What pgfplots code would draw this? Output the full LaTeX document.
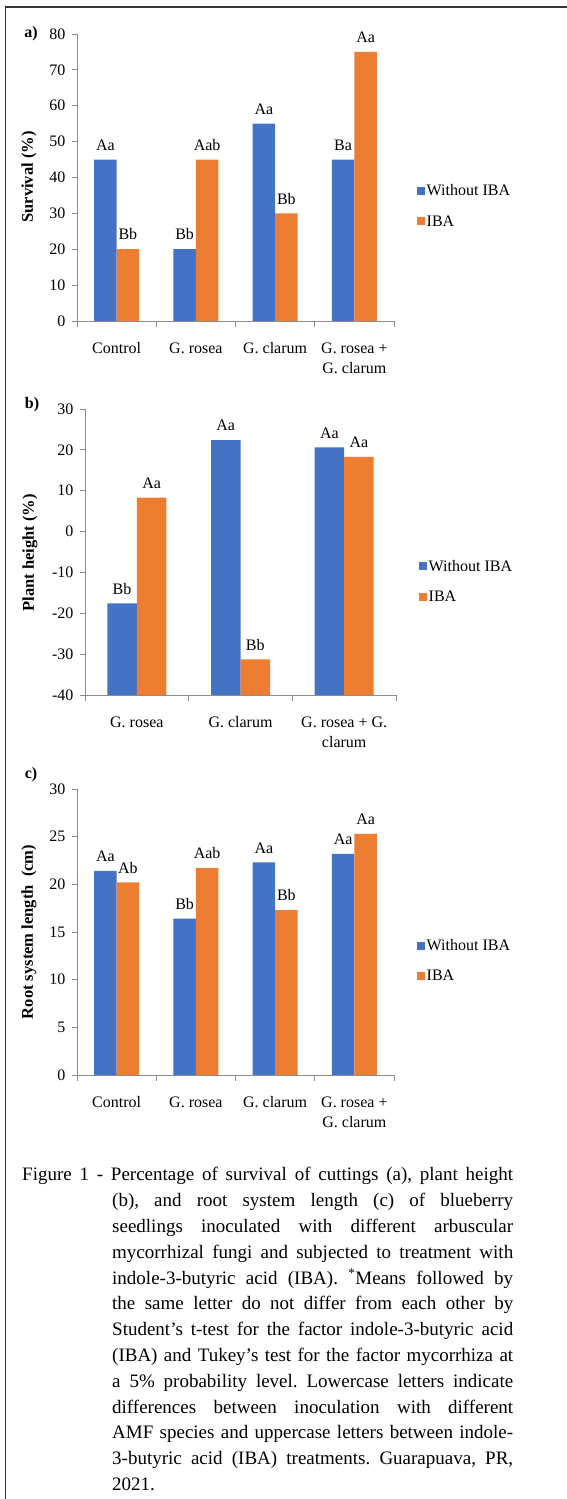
\documentclass[border=0pt]{standalone}
\usepackage{pgfplots}
\pgfplotsset{compat=1.18}
\usepackage{fontspec}
\setmainfont{Liberation Serif}
\definecolor{barblue}{HTML}{4472C4}
\definecolor{barorange}{HTML}{ED7D31}
\definecolor{axgray}{HTML}{8C8C8C}
\newcommand{\fs}{\fontsize{16}{20}\selectfont}
\pgfplotsset{
  panel/.style={
    scale only axis,
    axis lines*=left,
    axis line style={axgray, line width=0.8pt},
    ybar=0pt,
    enlarge x limits=false,
    tick align=outside,
    major tick length=5pt,
    minor tick length=6pt,
    major x tick style={draw=none},
    minor x tick style={axgray, line width=0.8pt},
    ytick style={axgray, line width=0.8pt},
    /pgf/number format/assume math mode=true,
    ticklabel style={font=\fs},
    xticklabel style={align=center, font=\fs, yshift=-13pt},
    yticklabel style={xshift=-3pt},
    nodes near coords,
    point meta=explicit symbolic,
    nodes near coords style={font=\fs, anchor=south, inner sep=2pt, yshift=7pt, text=black},
    legend image code/.code={\fill[##1] (0pt,-4pt) rectangle (8pt,4pt);},
    legend style={draw=none, fill=none, font=\fs, inner sep=0pt, row sep=15pt,
      nodes={inner sep=1.5pt}},
    legend cell align=left,
  }
}
\begin{document}
\frenchspacing
\begin{tikzpicture}[x=1pt,y=1pt]
\useasboundingbox (0,0) rectangle (567,1499);
\draw[line width=1.8pt, black!80] (5.5,0) -- (5.5,1492) -- (567,1492);

% ---------- panel a ----------
\begin{axis}[panel, at={(77pt,1178pt)}, anchor=south west,
  width=317pt, height=287pt,
  xmin=-0.5, xmax=3.5, ymin=0, ymax=80,
  ytick={0,10,...,80},
  xtick={0,1,2,3},
  xticklabels={Control, G. rosea, G. clarum, {G. rosea +\\G. clarum}},
  minor xtick={-0.5,0.5,1.5,2.5,3.5},
  bar width=22.5pt,
  legend style={at={(axis description cs:1.0726,0.40)}, anchor=west},
]
\addplot[fill=barblue, draw=none] coordinates {(0,45) [Aa] (1,20) [Bb] (2,55) [Aa] (3,45) [Ba]};
\addplot[fill=barorange, draw=none] coordinates {(0,20) [Bb] (1,45) [Aab] (2,30) [Bb] (3,75) [Aa]};
\legend{Without IBA, IBA}
\end{axis}
\node[font=\bfseries\fontsize{16}{20}\selectfont] at (31,1465) {a)};
\node[font=\bfseries\fontsize{16.5}{20}\selectfont, rotate=90] at (29,1322) {Survival (\%)};

% ---------- panel b ----------
\begin{axis}[panel, at={(85pt,804pt)}, anchor=south west,
  width=311pt, height=286pt,
  y coord trafo/.code={\pgfmathparse{#1+40}},
  y coord inv trafo/.code={\pgfmathparse{#1-40}},
  xmin=-0.5, xmax=2.5, ymin=-40, ymax=30,
  ytick={-40,-30,...,30},
  xtick={0,1,2},
  xticklabels={G. rosea, G. clarum, {G. rosea + G.\\clarum}},
  minor xtick={-0.5,0.5,1.5,2.5},
  bar width=29.5pt,
  legend style={at={(axis description cs:1.074,0.397)}, anchor=west},
]
\addplot[fill=barblue, draw=none] coordinates {(0,-17.6) [Bb] (1,22.4) [Aa] (2,20.6) [Aa]};
\addplot[fill=barorange, draw=none] coordinates {(0,8.3) [Aa] (1,-31.3) [Bb] (2,18.3) [Aa]};
\legend{Without IBA, IBA}
\end{axis}
\node[font=\bfseries\fontsize{16}{20}\selectfont] at (32,1094) {b)};
\node[font=\bfseries\fontsize{16.5}{20}\selectfont, rotate=90] at (30,946) {Plant height (\%)};

% ---------- panel c ----------
\begin{axis}[panel, at={(77pt,424pt)}, anchor=south west,
  width=317pt, height=286pt,
  xmin=-0.5, xmax=3.5, ymin=0, ymax=30,
  ytick={0,5,...,30},
  xtick={0,1,2,3},
  xticklabels={Control, G. rosea, G. clarum, {G. rosea +\\G. clarum}},
  minor xtick={-0.5,0.5,1.5,2.5,3.5},
  bar width=22.5pt,
  legend style={at={(axis description cs:1.0726,0.3986)}, anchor=west},
]
\addplot[fill=barblue, draw=none] coordinates {(0,21.4) [Aa] (1,16.4) [Bb] (2,22.3) [Aa] (3,23.2) [Aa]};
\addplot[fill=barorange, draw=none] coordinates {(0,20.2) [Ab] (1,21.7) [Aab] (2,17.3) [Bb] (3,25.3) [Aa]};
\legend{Without IBA, IBA}
\end{axis}
\node[font=\bfseries\fontsize{16}{20}\selectfont] at (31,724) {c)};
\node[font=\bfseries\fontsize{16.5}{20}\selectfont, rotate=90] at (29,567) {Root system length\ \ (cm)};

% ---------- caption ----------
\node[anchor=base west, inner sep=0pt, font=\fontsize{19}{25.8}\selectfont] at (22,318) {%
\parbox[t]{491pt}{\setlength{\parindent}{0pt}\frenchspacing\hangindent=90pt\hangafter=1\noindent
Figure 1 - Percentage of survival of cuttings (a), plant height\linebreak
(b), and root system length (c) of blueberry\linebreak
seedlings inoculated with different arbuscular\linebreak
mycorrhizal fungi and subjected to treatment with\linebreak
indole-3-butyric acid (IBA). \textsuperscript{*}Means followed by\linebreak
the same letter do not differ from each other by\linebreak
Student’s t-test for the factor indole-3-butyric acid\linebreak
(IBA) and Tukey’s test for the factor mycorrhiza at\linebreak
a 5\% probability level. Lowercase letters indicate\linebreak
differences between inoculation with different\linebreak
AMF species and uppercase letters between indole-\linebreak
3-butyric acid (IBA) treatments. Guarapuava, PR,\linebreak
2021.}};
\end{tikzpicture}
\end{document}
